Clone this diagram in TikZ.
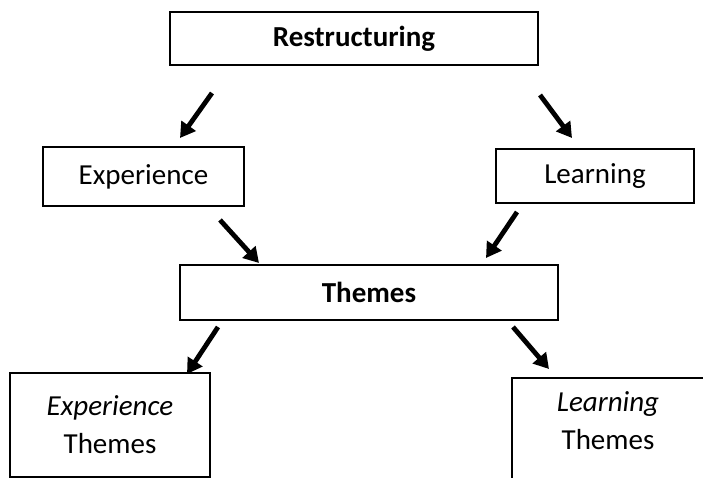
\documentclass[tikz,border=0pt]{standalone}
\usepackage{fontspec}
\setmainfont{Carlito}
\usetikzlibrary{arrows.meta}
\begin{document}
\begin{tikzpicture}[x=1pt,y=-1pt,
  box/.style={draw=black,line width=1.5pt,rectangle,inner sep=0pt,align=center},
  txt/.style={font=\fontsize{29}{38}\selectfont,align=center,inner sep=0pt},
  bigarrow/.style={line width=4.8pt,-{Triangle[length=15pt,width=17pt]}}]
\useasboundingbox (0,0) rectangle (703,478);
\clip (0,0) rectangle (703,478);
\node[box,minimum width=368pt,minimum height=53pt,txt,font=\fontsize{29}{38}\selectfont\bfseries] (restr) at (354,38.5) {Restructuring};
\node[box,minimum width=201pt,minimum height=59pt,txt] (exp) at (143.5,176.5) {Experience};
\node[box,minimum width=198pt,minimum height=54pt,txt] (learn) at (595,176) {Learning};
\node[box,minimum width=378pt,minimum height=55pt,txt,font=\fontsize{29}{38}\selectfont\bfseries] (themes) at (369,292.5) {Themes};
\node[box,minimum width=200pt,minimum height=104pt,txt] (expth) at (110,425) {\textit{Experience}\\Themes};
\node[box,minimum width=192pt,minimum height=120pt] (learnth) at (608,438) {};
\node[txt] (learnthtext) at (608,421) {\textit{Learning}\\Themes};
\coordinate (a1s) at (212,93);  \coordinate (a1e) at (180,138);
\coordinate (a2s) at (540,95);  \coordinate (a2e) at (572,138);
\coordinate (a3s) at (220,220); \coordinate (a3e) at (259,263);
\coordinate (a4s) at (517,212); \coordinate (a4e) at (486,258);
\coordinate (a5s) at (218,327); \coordinate (a5e) at (187,374);
\coordinate (a6s) at (513,327); \coordinate (a6e) at (549,369);
\draw[bigarrow] (a1s) -- (a1e);
\draw[bigarrow] (a2s) -- (a2e);
\draw[bigarrow] (a3s) -- (a3e);
\draw[bigarrow] (a4s) -- (a4e);
\draw[bigarrow] (a5s) -- (a5e);
\draw[bigarrow] (a6s) -- (a6e);
\end{tikzpicture}
\end{document}
